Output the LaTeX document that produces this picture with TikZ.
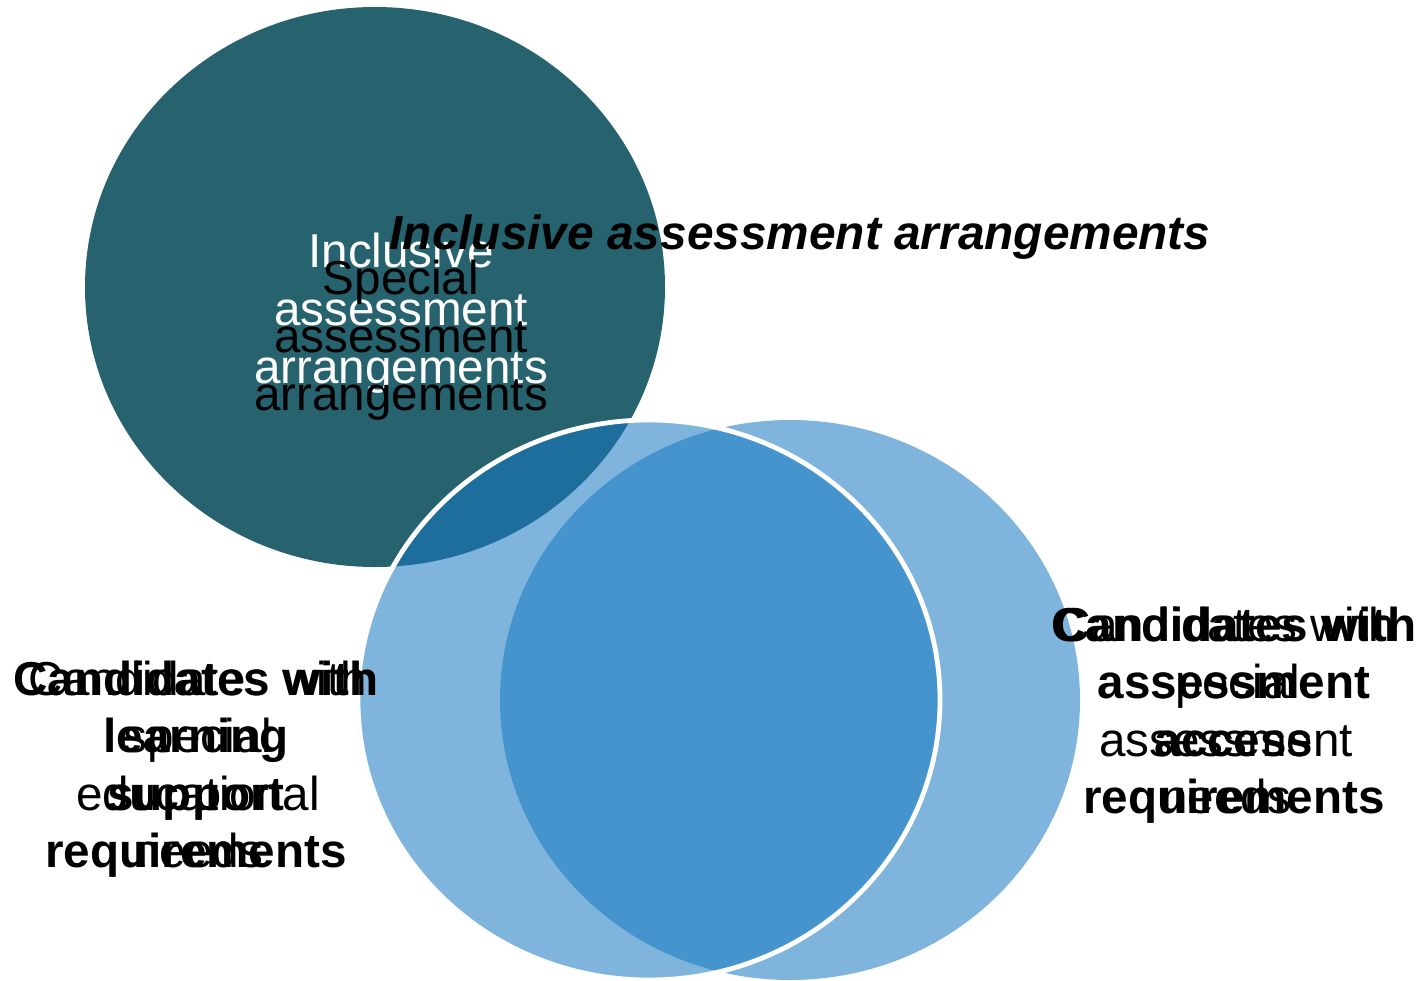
\documentclass[tikz,border=0pt]{standalone}
\usepackage{fontspec}
\setmainfont{Liberation Sans}
\definecolor{teal1}{RGB}{39,98,111}
\definecolor{blueA}{RGB}{22,120,193}
\tikzset{
  ring/.style={fill=blueA, fill opacity=0.55, draw=none},
  txt/.style={align=center, inner sep=0pt, font=\fontsize{23.8}{28.8}\selectfont},
  txtb/.style={txt, font=\fontsize{23.8}{28.8}\selectfont\bfseries},
}
\begin{document}
\begin{tikzpicture}[x=0.5pt,y=-0.5pt]
\useasboundingbox (0,0) rectangle (1424,980);
\fill[teal1] (375,287) ellipse [x radius=290, y radius=280];
\fill[ring] (790,700) ellipse [x radius=290, y radius=280];
\fill[ring] (649,700) ellipse [x radius=291, y radius=280];
\draw[white, line width=2.4pt] (649,700) ellipse [x radius=291, y radius=280];
\node[txt, text=white] (inclw) at (401,314) {\strut Inclusive\\assessment\\arrangements\strut};
\node[txt, text=black] (special) at (401,341) {\strut Special\\assessment\\arrangements\strut};
\node[txt, font=\fontsize{23.9}{28.8}\selectfont\bfseries\itshape] (title) at (800,238) {\strut Inclusive assessment arrangements\strut};
\node[txt] (lreg) at (198,770) {\strut Candidates with\\special\\educational\\needs\strut};
\node[txtb] (lbold) at (196,770) {\strut Candidates with\\learning\\support\\requirements\strut};
\node[txt] (rreg) at (1226,716) {\strut Candidates with\\special\\assessment\\needs\strut};
\node[txtb] (rbold) at (1234,716) {\strut Candidates with\\assessment\\access\\requirements\strut};
\end{tikzpicture}
\end{document}
